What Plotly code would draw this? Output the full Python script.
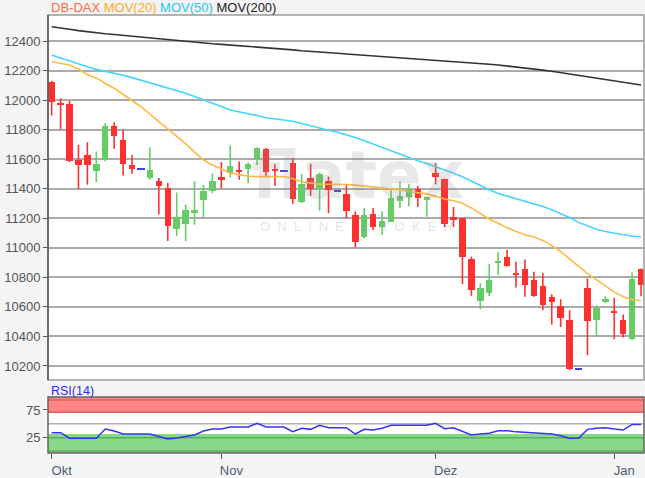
import plotly.graph_objects as go

# ---------------- data ----------------
idx = list(range(67))
month_ticks = [0, 19, 43, 63]
month_labels = ["Okt", "Nov", "Dez", "Jan"]

opens = [12125, 11975, 11975, 11597, 11625, 11517, 11596, 11827, 11730, 11562,
         11535, 11472, 11450, 11408, 11124, 11164, 11236, 11322, 11385, 11482,
         11505, 11528, 11532, 11600, 11668, 11532, 11521, 11577, 11313, 11471,
         11397, 11455, 11388, 11361, 11224, 11071, 11231, 11144, 11178, 11315,
         11342, 11395, 11326, 11504, 11463, 11206, 11200, 10922, 10642, 10692,
         10895, 10937, 10826, 10855, 10781, 10742, 10668, 10605, 10514, 10182,
         10731, 10510, 10634, 10573, 10510, 10381, 10855]
highs = [12130, 12012, 11995, 11697, 11715, 11652, 11843, 11850, 11798, 11629,
         11535, 11681, 11472, 11440, 11375, 11292, 11450, 11425, 11505, 11580,
         11693, 11584, 11577, 11681, 11675, 11566, 11521, 11607, 11500, 11568,
         11510, 11482, 11388, 11430, 11247, 11270, 11269, 11247, 11390, 11447,
         11434, 11418, 11346, 11573, 11468, 11276, 11205, 10940, 10760, 10890,
         10970, 10985, 10905, 10921, 10837, 10830, 10686, 10652, 10577, 10182,
         10792, 10611, 10675, 10661, 10548, 10833, 10860]
lows = [11895, 11802, 11580, 11398, 11427, 11445, 11585, 11670, 11490, 11501,
        11535, 11461, 11225, 11046, 11079, 11045, 11157, 11208, 11370, 11403,
        11476, 11460, 11437, 11561, 11487, 11419, 11521, 11297, 11302, 11351,
        11252, 11234, 11388, 11200, 11003, 11065, 11121, 11087, 11175, 11269,
        11281, 11276, 11211, 11429, 11140, 11140, 10755, 10675, 10584, 10674,
        10816, 10872, 10731, 10668, 10668, 10577, 10480, 10464, 10170, 10182,
        10272, 10403, 10627, 10381, 10392, 10374, 10672]
closes = [11990, 11968, 11585, 11560, 11558, 11570, 11827, 11757, 11566, 11535,
          11535, 11524, 11416, 11150, 11207, 11254, 11254, 11382, 11455, 11460,
          11555, 11512, 11566, 11675, 11516, 11520, 11521, 11329, 11430, 11397,
          11498, 11388, 11388, 11248, 11041, 11224, 11144, 11183, 11338, 11354,
          11400, 11338, 11342, 11482, 11162, 11190, 10940, 10715, 10726, 10782,
          10913, 10877, 10816, 10747, 10672, 10611, 10634, 10528, 10177, 10182,
          10505, 10589, 10652, 10560, 10415, 10792, 10747]

mov20 = [12260, 12250, 12238, 12210, 12172, 12150, 12112, 12080, 12040, 12000,
         11955, 11905, 11855, 11805, 11755, 11705, 11648, 11594, 11560, 11535,
         11504, 11495, 11485, 11482, 11484, 11486, 11483, 11468, 11447, 11438,
         11430, 11430, 11430, 11428, 11424, 11418, 11412, 11405, 11400, 11392,
         11381, 11372, 11365, 11348, 11330, 11318, 11301, 11270, 11235, 11195,
         11166, 11135, 11110, 11088, 11073, 11050, 11015, 10975, 10925, 10875,
         10825, 10785, 10745, 10700, 10668, 10650, 10642]
mov50 = [12305, 12285, 12262, 12245, 12225, 12208, 12196, 12184, 12168, 12152,
         12135, 12120, 12103, 12085, 12068, 12047, 12025, 12004, 11980, 11957,
         11933, 11922, 11906, 11895, 11880, 11872, 11866, 11857, 11842, 11825,
         11810, 11796, 11782, 11765, 11746, 11725, 11702, 11678, 11655, 11635,
         11612, 11590, 11570, 11550, 11530, 11505, 11481, 11450, 11420, 11393,
         11368, 11350, 11333, 11316, 11300, 11280, 11258, 11234, 11205, 11172,
         11150, 11125, 11110, 11097, 11088, 11080, 11075]
mov200 = [12497, 12490, 12480, 12470, 12462, 12455, 12449, 12444, 12438, 12432,
          12427, 12420, 12413, 12406, 12401, 12396, 12390, 12385, 12381, 12377,
          12373, 12369, 12365, 12361, 12357, 12352, 12347, 12340, 12334, 12331,
          12327, 12322, 12317, 12312, 12308, 12304, 12300, 12296, 12292, 12288,
          12283, 12277, 12272, 12268, 12265, 12263, 12260, 12255, 12249, 12243,
          12237, 12231, 12225, 12218, 12211, 12203, 12195, 12186, 12178, 12170,
          12160, 12150, 12140, 12131, 12122, 12112, 12102]
rsi = [34, 34, 24, 24, 24, 24, 40.6, 37, 31.6, 31.6,
       31.6, 31.6, 27, 22.6, 24.5, 27, 30, 37, 40.6, 40.6,
       44.2, 44.2, 44.2, 51, 44.2, 44.2, 44.2, 35.8, 41.9, 40,
       47.3, 43, 43, 43, 31.6, 40, 38.8, 41.9, 47.3, 47.5,
       47.8, 47.3, 47.3, 51, 41.2, 43, 36, 29.8, 31.5, 33,
       37.6, 37.6, 35.5, 34.5, 33, 32.2, 31.6, 28.6, 23.9, 23.9,
       40, 42, 43, 40.6, 38.8, 49, 49]

price_ticks = list(range(10200, 12401, 200))
rsi_ticks = [25, 75]

# ---------------- styling ----------------
RED = "#ff3030"
GREEN = "#66cc66"
BLUE = "#4040dd"
FONT = "Liberation Sans, Arial, sans-serif"

fig = go.Figure()

up = [i for i in idx if closes[i] > opens[i]]
down = [i for i in idx if closes[i] < opens[i]]
flat = [i for i in idx if closes[i] == opens[i]]


def wick_xy(sel):
    xs, ys = [], []
    for i in sel:
        xs += [i, i, None]
        ys += [lows[i], highs[i], None]
    return xs, ys


for sel, col in ((down, RED), (up, GREEN)):
    wx, wy = wick_xy(sel)
    fig.add_trace(go.Scatter(x=wx, y=wy, mode="lines", line=dict(color=col, width=1.6),
                             hoverinfo="skip", showlegend=False, xaxis="x", yaxis="y"))
    fig.add_trace(go.Bar(x=sel, base=[min(opens[i], closes[i]) for i in sel],
                         y=[max(abs(closes[i] - opens[i]), 12) for i in sel],
                         width=0.72, marker=dict(color=col, line=dict(width=0)),
                         showlegend=False, xaxis="x", yaxis="y"))

fig.add_trace(go.Bar(x=flat, base=[closes[i] - 5 for i in flat], y=[10 for _ in flat],
                     width=0.85, marker=dict(color=BLUE, line=dict(width=0)),
                     showlegend=False, xaxis="x", yaxis="y"))

fig.add_trace(go.Scatter(x=idx, y=mov200, mode="lines", line=dict(color="#333333", width=1.6),
                         showlegend=False, xaxis="x", yaxis="y"))
fig.add_trace(go.Scatter(x=idx, y=mov50, mode="lines", line=dict(color="#44d4ff", width=1.6),
                         showlegend=False, xaxis="x", yaxis="y"))
fig.add_trace(go.Scatter(x=idx, y=mov20, mode="lines", line=dict(color="#ffbb44", width=1.6),
                         showlegend=False, xaxis="x", yaxis="y"))

fig.add_trace(go.Scatter(x=idx, y=rsi, mode="lines", line=dict(color="#3333ff", width=1.5),
                         showlegend=False, xaxis="x2", yaxis="y2"))

XR = [-0.41, 66.33]

shapes = [
    # RSI bands
    dict(type="rect", xref="x2 domain", yref="y2", x0=0, x1=1, y0=70, y1=100,
         fillcolor="#ff8585", line=dict(width=0), layer="below"),
    dict(type="rect", xref="x2 domain", yref="y2", x0=0, x1=1, y0=-5, y1=31.5,
         fillcolor="#88d888", line=dict(width=0), layer="below"),
    dict(type="line", xref="x2 domain", yref="y2", x0=0, x1=1, y0=71, y1=71,
         line=dict(color="#dd6262", width=1.5), layer="below"),
    dict(type="line", xref="x2 domain", yref="y2", x0=0, x1=1, y0=93, y1=93,
         line=dict(color="#dd6262", width=1.5), layer="below"),
    dict(type="line", xref="x2 domain", yref="y2", x0=0, x1=1, y0=25, y1=25,
         line=dict(color="#5cae5c", width=1.5), layer="below"),
    dict(type="line", xref="x2 domain", yref="y2", x0=0, x1=1, y0=1, y1=1,
         line=dict(color="#5cae5c", width=1.5), layer="below"),
    dict(type="line", xref="x2 domain", yref="y2", x0=0, x1=1, y0=50, y1=50,
         line=dict(color="#b0b0b0", width=1.5), layer="below"),
    # borders
    dict(type="rect", xref="x2 domain", yref="y2 domain", x0=0, x1=1, y0=0, y1=1,
         line=dict(color="#666666", width=1.5)),
    dict(type="rect", xref="x domain", yref="y domain", x0=0, x1=1, y0=0, y1=1,
         line=dict(color="#9a9a9a", width=1.5)),
    dict(type="line", xref="x domain", yref="y domain", x0=0, x1=0, y0=0, y1=1,
         line=dict(color="#555555", width=1.5)),
]

annotations = [
    dict(xref="paper", yref="paper", x=0.002, y=1.0171, xanchor="left", yanchor="middle",
         showarrow=False, font=dict(family=FONT, size=13),
         text="<span style='color:#ff6a4a'>DB-DAX</span> "
              "<span style='color:#ffaa22'>MOV(20)</span> "
              "<span style='color:#22c8f5'>MOV(50)</span> "
              "<span style='color:#222222'>MOV(200)</span>"),
    dict(xref="paper", yref="paper", x=0.002, y=0.1416, xanchor="left", yanchor="middle",
         showarrow=False, font=dict(family=FONT, size=12.5, color="#2a2aff"), text="RSI(14)"),
    dict(xref="paper", yref="paper", x=(358 - 48) / 596, y=(453 - 175) / 438,
         xanchor="center", yanchor="middle", showarrow=False,
         font=dict(family="DejaVu Sans, sans-serif", size=66, color="rgba(140,140,140,0.2)"),
         text="<b>flatex</b>"),
    dict(xref="paper", yref="paper", x=(356 - 48) / 596, y=(453 - 226) / 438,
         xanchor="center", yanchor="middle", showarrow=False,
         font=dict(family=FONT, size=13, color="rgba(140,140,140,0.25)"),
         text="O  N  L  I  N  E     B  R  O  K  E  R"),
]

fig.update_layout(
    width=645, height=478,
    margin=dict(l=48, r=1, t=15, b=25),
    paper_bgcolor="#f4f4f4", plot_bgcolor="#ffffff",
    barmode="overlay", bargap=0,
    showlegend=False,
    font=dict(family=FONT, size=13, color="#555555"),
    xaxis=dict(domain=[0, 1], anchor="y", range=XR, showticklabels=False, showgrid=False,
               zeroline=False, ticks=""),
    yaxis=dict(domain=[0.1667, 1], anchor="x", range=[10105, 12576], tickvals=price_ticks,
               tickformat="d",
               ticks="outside", ticklen=4, tickcolor="#555555", tickwidth=1.2,
               showgrid=True, gridcolor="#ababab", gridwidth=1.5, zeroline=False,
               tickfont=dict(family=FONT, size=13, color="#555555")),
    xaxis2=dict(domain=[0, 1], anchor="y2", range=XR, tickvals=month_ticks,
                ticktext=month_labels, ticks="outside", ticklen=5, tickcolor="#555555",
                tickwidth=1.2, showgrid=False, zeroline=False, ticklabelshift=10,
                tickfont=dict(family=FONT, size=13, color="#4a5e72")),
    yaxis2=dict(domain=[0, 0.1279], anchor="x2", range=[-2.6, 98.4], tickvals=rsi_ticks,
                ticks="outside", ticklen=4, tickcolor="#555555", tickwidth=1.2,
                showgrid=False, zeroline=False,
                tickfont=dict(family=FONT, size=13, color="#555555")),
    shapes=shapes,
    annotations=annotations,
)

fig.write_html("out.html", config={"displayModeBar": False},
               post_script="document.body.style.margin='0px';document.body.style.overflow='hidden';")
